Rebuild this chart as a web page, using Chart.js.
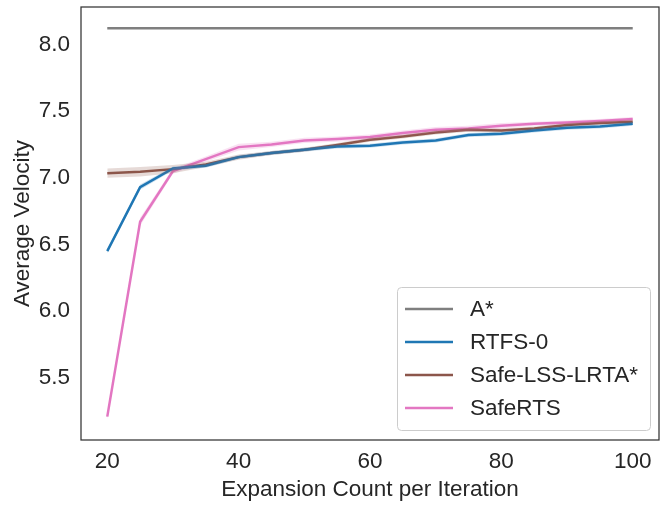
<!DOCTYPE html>
<html>
<head>
<meta charset="utf-8">
<script src="https://cdn.jsdelivr.net/npm/chart.js@4/dist/chart.umd.min.js"></script>
<style>
  html, body { margin: 0; padding: 0; background: #ffffff; }
  #wrap { width: 660px; height: 506px; }
</style>
</head>
<body>
<div id="wrap"><canvas id="c" width="660" height="506"></canvas></div>
<script>
// Expansion count per iteration (x values)
const expansionCounts = [20, 25, 30, 35, 40, 45, 50, 55, 60, 65, 70, 75, 80, 85, 90, 95, 100];

// Mean average velocity per algorithm
const aStar      = [8.12, 8.12, 8.12, 8.12, 8.12, 8.12, 8.12, 8.12, 8.12, 8.12, 8.12, 8.12, 8.12, 8.12, 8.12, 8.12, 8.12];
const rtfs0      = [6.45, 6.93, 7.07, 7.09, 7.155, 7.185, 7.21, 7.235, 7.24, 7.265, 7.28, 7.32, 7.33, 7.355, 7.375, 7.385, 7.405];
const safeLssLrta= [7.035, 7.045, 7.065, 7.10, 7.155, 7.185, 7.21, 7.245, 7.285, 7.31, 7.34, 7.36, 7.355, 7.37, 7.395, 7.41, 7.42];
const safeRts    = [5.21, 6.67, 7.05, 7.14, 7.23, 7.25, 7.28, 7.29, 7.305, 7.335, 7.36, 7.37, 7.39, 7.405, 7.415, 7.425, 7.44];

// Half-width of the confidence band around each mean
const rtfs0Ci      = [0.015, 0.02, 0.015, 0.015, 0.015, 0.015, 0.015, 0.015, 0.015, 0.015, 0.015, 0.015, 0.015, 0.015, 0.015, 0.015, 0.015];
const safeLssLrtaCi= [0.035, 0.035, 0.03, 0.02, 0.02, 0.015, 0.015, 0.015, 0.015, 0.015, 0.015, 0.015, 0.015, 0.015, 0.015, 0.015, 0.015];
const safeRtsCi    = [0.02, 0.03, 0.02, 0.02, 0.025, 0.02, 0.02, 0.02, 0.02, 0.02, 0.02, 0.02, 0.02, 0.015, 0.015, 0.015, 0.015];

// Axis tick labels
const xTickValues = [20, 40, 60, 80, 100];
const yTickValues = [5.5, 6.0, 6.5, 7.0, 7.5, 8.0];

const seriesNames = ['A*', 'RTFS-0', 'Safe-LSS-LRTA*', 'SafeRTS'];
const seriesColors = ['#7f7f7f', '#1f77b4', '#8c564b', '#e377c2'];
const bandColors = [null, 'rgba(31,119,180,0.22)', 'rgba(140,86,75,0.22)', 'rgba(227,119,194,0.22)'];

const FONT = '"Liberation Sans", Arial, Helvetica, sans-serif';
const FS = 22.5;
const TEXT = '#262626';

function pts(ys) { return expansionCounts.map((x, i) => ({ x: x, y: ys[i] })); }
function shifted(ys, ci, sign) { return expansionCounts.map((x, i) => ({ x: x, y: ys[i] + sign * ci[i] })); }

const datasets = [];
// Confidence bands first, so the lines sit on top
[[rtfs0, rtfs0Ci, 1], [safeLssLrta, safeLssLrtaCi, 2], [safeRts, safeRtsCi, 3]].forEach(([ys, ci, k]) => {
  datasets.push({ data: shifted(ys, ci, -1), borderWidth: 0, pointRadius: 0, fill: false, isBand: true, borderColor: 'transparent' });
  datasets.push({ data: shifted(ys, ci, 1), borderWidth: 0, pointRadius: 0, fill: '-1', backgroundColor: bandColors[k], isBand: true, borderColor: 'transparent' });
});
[aStar, rtfs0, safeLssLrta, safeRts].forEach((ys, k) => {
  datasets.push({
    label: seriesNames[k], data: pts(ys), borderColor: seriesColors[k], borderWidth: 2.5,
    pointRadius: 0, fill: false, tension: 0, borderCapStyle: 'butt'
  });
});

// Frame around the plotting area plus a boxed legend in the lower right
const framePlugin = {
  id: 'frameAndLegend',
  afterDraw(chart) {
    const ctx = chart.ctx, a = chart.chartArea;
    ctx.save();
    ctx.strokeStyle = '#333333';
    ctx.lineWidth = 1.25;
    ctx.strokeRect(a.left, a.top, a.right - a.left, a.bottom - a.top);

    const lines = chart.data.datasets.filter(d => !d.isBand);
    const boxR = a.right - 9, boxB = a.bottom - 10;
    const boxW = 253, rowH = 33, padV = 22;
    const boxH = padV * 2 + rowH * (lines.length - 1);
    const boxL = boxR - boxW, boxT = boxB - boxH;
    ctx.beginPath();
    ctx.roundRect(boxL + 0.5, boxT + 0.5, boxW, boxH, 4);
    ctx.fillStyle = 'rgba(255,255,255,0.8)';
    ctx.fill();
    ctx.strokeStyle = '#cccccc';
    ctx.lineWidth = 1;
    ctx.stroke();

    ctx.font = FS + 'px ' + FONT;
    ctx.textBaseline = 'middle';
    ctx.textAlign = 'left';
    lines.forEach((d, i) => {
      const y = boxT + padV + i * rowH;
      ctx.beginPath();
      ctx.moveTo(boxL + 8, y);
      ctx.lineTo(boxL + 56, y);
      ctx.strokeStyle = d.borderColor;
      ctx.lineWidth = 2.5;
      ctx.stroke();
      ctx.fillStyle = TEXT;
      ctx.fillText(d.label, boxL + 73, y + 1);
    });
    ctx.restore();
  }
};

new Chart(document.getElementById('c'), {
  type: 'line',
  data: { datasets: datasets },
  options: {
    responsive: false,
    animation: false,
    layout: { padding: { top: 7, right: 1, left: 0, bottom: 0 } },
    plugins: { legend: { display: false }, tooltip: { enabled: false } },
    scales: {
      x: {
        type: 'linear', min: 16, max: 104,
        grid: { display: false, drawTicks: false },
        border: { display: false },
        afterBuildTicks: s => { s.ticks = xTickValues.map(v => ({ value: v })); },
        afterFit: s => { s.height = 66; s.paddingLeft = 0; s.paddingRight = 0; },
        ticks: { font: { family: FONT, size: FS }, color: TEXT, padding: 8, maxRotation: 0, callback: v => String(v) },
        title: { display: true, text: 'Expansion Count per Iteration', font: { family: FONT, size: FS }, color: TEXT, padding: { top: 0, bottom: 3 } }
      },
      y: {
        type: 'linear', min: 5.035, max: 8.28,
        grid: { display: false, drawTicks: false },
        border: { display: false },
        afterBuildTicks: s => { s.ticks = yTickValues.map(v => ({ value: v })); },
        afterFit: s => { s.width = 81; s.paddingTop = 0; s.paddingBottom = 0; },
        ticks: { font: { family: FONT, size: FS }, color: TEXT, padding: 11, callback: v => v.toFixed(1) },
        title: { display: true, text: 'Average Velocity', font: { family: FONT, size: FS }, color: TEXT, padding: { top: 9, bottom: 0 } }
      }
    }
  },
  plugins: [framePlugin]
});
</script>
</body>
</html>
